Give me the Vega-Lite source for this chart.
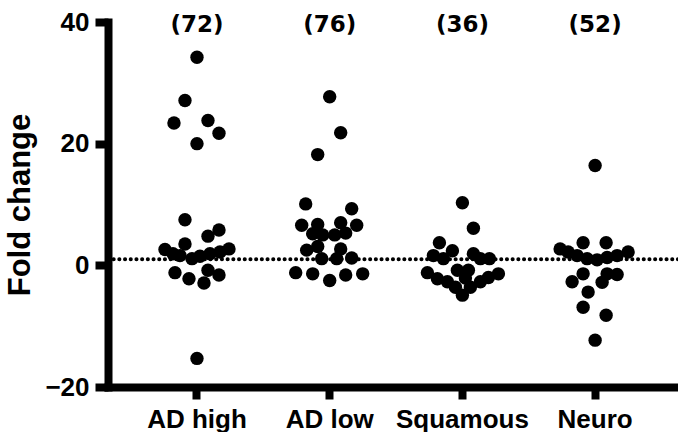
{
  "$schema": "https://vega.github.io/schema/vega-lite/v6.json",
  "width": 570,
  "height": 365,
  "autosize": {"type": "none"},
  "padding": {"left": 108, "top": 22, "right": 0, "bottom": 45},
  "background": "white",
  "config": {
    "view": {"stroke": null},
    "axis": {
      "domainWidth": 8, "domainColor": "black", "tickWidth": 8, "tickColor": "black", "domainCap": "square",
      "labelFont": "Liberation Sans", "labelFontWeight": "bold", "labelFontSize": 26, "labelColor": "black",
      "titleFont": "Liberation Sans", "titleFontWeight": "bold", "titleFontSize": 31, "titleColor": "black",
      "grid": false
    }
  },
  "datasets": {
    "pts": [
      {"g": "AD high", "v": 34.2, "j": 0},
      {"g": "AD high", "v": 27.1, "j": -12},
      {"g": "AD high", "v": 23.4, "j": -23},
      {"g": "AD high", "v": 23.8, "j": 11},
      {"g": "AD high", "v": 21.7, "j": 22},
      {"g": "AD high", "v": 20.0, "j": 0},
      {"g": "AD high", "v": 7.5, "j": -12},
      {"g": "AD high", "v": 5.8, "j": 22},
      {"g": "AD high", "v": 4.8, "j": 11},
      {"g": "AD high", "v": 2.6, "j": -32},
      {"g": "AD high", "v": 3.5, "j": -12},
      {"g": "AD high", "v": 2.7, "j": 32},
      {"g": "AD high", "v": 1.9, "j": -24},
      {"g": "AD high", "v": 1.6, "j": -17},
      {"g": "AD high", "v": 1.1, "j": -5},
      {"g": "AD high", "v": 1.5, "j": 3},
      {"g": "AD high", "v": 1.9, "j": 13},
      {"g": "AD high", "v": 2.2, "j": 23},
      {"g": "AD high", "v": -1.2, "j": -22},
      {"g": "AD high", "v": -2.2, "j": -8},
      {"g": "AD high", "v": -2.9, "j": 7},
      {"g": "AD high", "v": -0.8, "j": 11},
      {"g": "AD high", "v": -1.6, "j": 22},
      {"g": "AD high", "v": -15.3, "j": 0},
      {"g": "AD low", "v": 27.7, "j": 0},
      {"g": "AD low", "v": 21.8, "j": 11},
      {"g": "AD low", "v": 18.2, "j": -12},
      {"g": "AD low", "v": 10.1, "j": -24},
      {"g": "AD low", "v": 9.3, "j": 22},
      {"g": "AD low", "v": 6.6, "j": -28},
      {"g": "AD low", "v": 6.7, "j": -12},
      {"g": "AD low", "v": 7.0, "j": 11},
      {"g": "AD low", "v": 6.6, "j": 27},
      {"g": "AD low", "v": 5.2, "j": -17},
      {"g": "AD low", "v": 5.0, "j": -7},
      {"g": "AD low", "v": 5.0, "j": 5},
      {"g": "AD low", "v": 5.3, "j": 16},
      {"g": "AD low", "v": 2.5, "j": -23},
      {"g": "AD low", "v": 3.1, "j": -12},
      {"g": "AD low", "v": 2.7, "j": 11},
      {"g": "AD low", "v": 1.1, "j": -8},
      {"g": "AD low", "v": 1.1, "j": 7},
      {"g": "AD low", "v": 1.2, "j": 22},
      {"g": "AD low", "v": -1.2, "j": -34},
      {"g": "AD low", "v": -1.4, "j": -17},
      {"g": "AD low", "v": -2.5, "j": 0},
      {"g": "AD low", "v": -1.6, "j": 16},
      {"g": "AD low", "v": -1.4, "j": 33},
      {"g": "Squamous", "v": 10.3, "j": 0},
      {"g": "Squamous", "v": 6.1, "j": 11},
      {"g": "Squamous", "v": 3.7, "j": -23},
      {"g": "Squamous", "v": 1.6, "j": -29},
      {"g": "Squamous", "v": 1.1, "j": -19},
      {"g": "Squamous", "v": 2.4, "j": -10},
      {"g": "Squamous", "v": 1.9, "j": 11},
      {"g": "Squamous", "v": 1.1, "j": 18},
      {"g": "Squamous", "v": 1.1, "j": 27},
      {"g": "Squamous", "v": -1.2, "j": -35},
      {"g": "Squamous", "v": -2.2, "j": -25},
      {"g": "Squamous", "v": -2.7, "j": -15},
      {"g": "Squamous", "v": -0.8, "j": -5},
      {"g": "Squamous", "v": -0.8, "j": 6},
      {"g": "Squamous", "v": -3.6, "j": -7},
      {"g": "Squamous", "v": -4.9, "j": 0},
      {"g": "Squamous", "v": -3.6, "j": 8},
      {"g": "Squamous", "v": -2.7, "j": 18},
      {"g": "Squamous", "v": -2.0, "j": 26},
      {"g": "Squamous", "v": -1.4, "j": 36},
      {"g": "Squamous", "v": -2.1, "j": 3},
      {"g": "Neuro", "v": 16.4, "j": 0},
      {"g": "Neuro", "v": 3.7, "j": -12},
      {"g": "Neuro", "v": 3.7, "j": 11},
      {"g": "Neuro", "v": 2.7, "j": -35},
      {"g": "Neuro", "v": 2.2, "j": -27},
      {"g": "Neuro", "v": 1.6, "j": -18},
      {"g": "Neuro", "v": 1.1, "j": -8},
      {"g": "Neuro", "v": 0.9, "j": 2},
      {"g": "Neuro", "v": 1.3, "j": 12},
      {"g": "Neuro", "v": 1.6, "j": 22},
      {"g": "Neuro", "v": 2.2, "j": 33},
      {"g": "Neuro", "v": -1.4, "j": -12},
      {"g": "Neuro", "v": -2.7, "j": -23},
      {"g": "Neuro", "v": -1.4, "j": 12},
      {"g": "Neuro", "v": -1.5, "j": 22},
      {"g": "Neuro", "v": -2.8, "j": 7},
      {"g": "Neuro", "v": -4.4, "j": -7},
      {"g": "Neuro", "v": -6.9, "j": -12},
      {"g": "Neuro", "v": -8.2, "j": 11},
      {"g": "Neuro", "v": -12.3, "j": 0}
    ],
    "ns": [
      {"g": "AD high", "n": "(72)", "top": 40},
      {"g": "AD low", "n": "(76)", "top": 40},
      {"g": "Squamous", "n": "(36)", "top": 40},
      {"g": "Neuro", "n": "(52)", "top": 40}
    ],
    "ref": [{"ref": 1}]
  },
  "layer": [
    {
      "data": {"name": "ref"},
      "mark": {"type": "rule", "strokeDash": [0.1, 5.6], "strokeCap": "round", "strokeWidth": 4, "color": "black"},
      "encoding": {
        "y": {
          "field": "ref", "type": "quantitative",
          "scale": {"domain": [-20, 40], "nice": false, "zero": false},
          "axis": {"title": "Fold change", "values": [-20, 0, 20, 40], "tickSize": 13, "labelPadding": 6, "titlePadding": 8}
        }
      }
    },
    {
      "data": {"name": "pts"},
      "mark": {"type": "circle", "size": 180, "opacity": 1, "color": "black"},
      "encoding": {
        "x": {
          "field": "g", "type": "nominal", "sort": ["AD high", "AD low", "Squamous", "Neuro"],
          "scale": {"paddingInner": 0, "paddingOuter": 0.1475, "align": 0.578},
          "axis": {"title": null, "labelAngle": 0, "tickSize": 12, "labelPadding": 7}
        },
        "xOffset": {"field": "j", "type": "quantitative", "scale": {"domain": [-66.35, 66.35], "range": [0, 132.7]}},
        "y": {"field": "v", "type": "quantitative"}
      }
    },
    {
      "data": {"name": "ns"},
      "mark": {"type": "text", "font": "DejaVu Sans", "fontWeight": "bold", "fontSize": 23, "baseline": "middle", "dy": 3, "color": "black"},
      "encoding": {
        "x": {"field": "g", "type": "nominal", "sort": ["AD high", "AD low", "Squamous", "Neuro"]},
        "y": {"field": "top", "type": "quantitative"},
        "text": {"field": "n"}
      }
    }
  ]
}
